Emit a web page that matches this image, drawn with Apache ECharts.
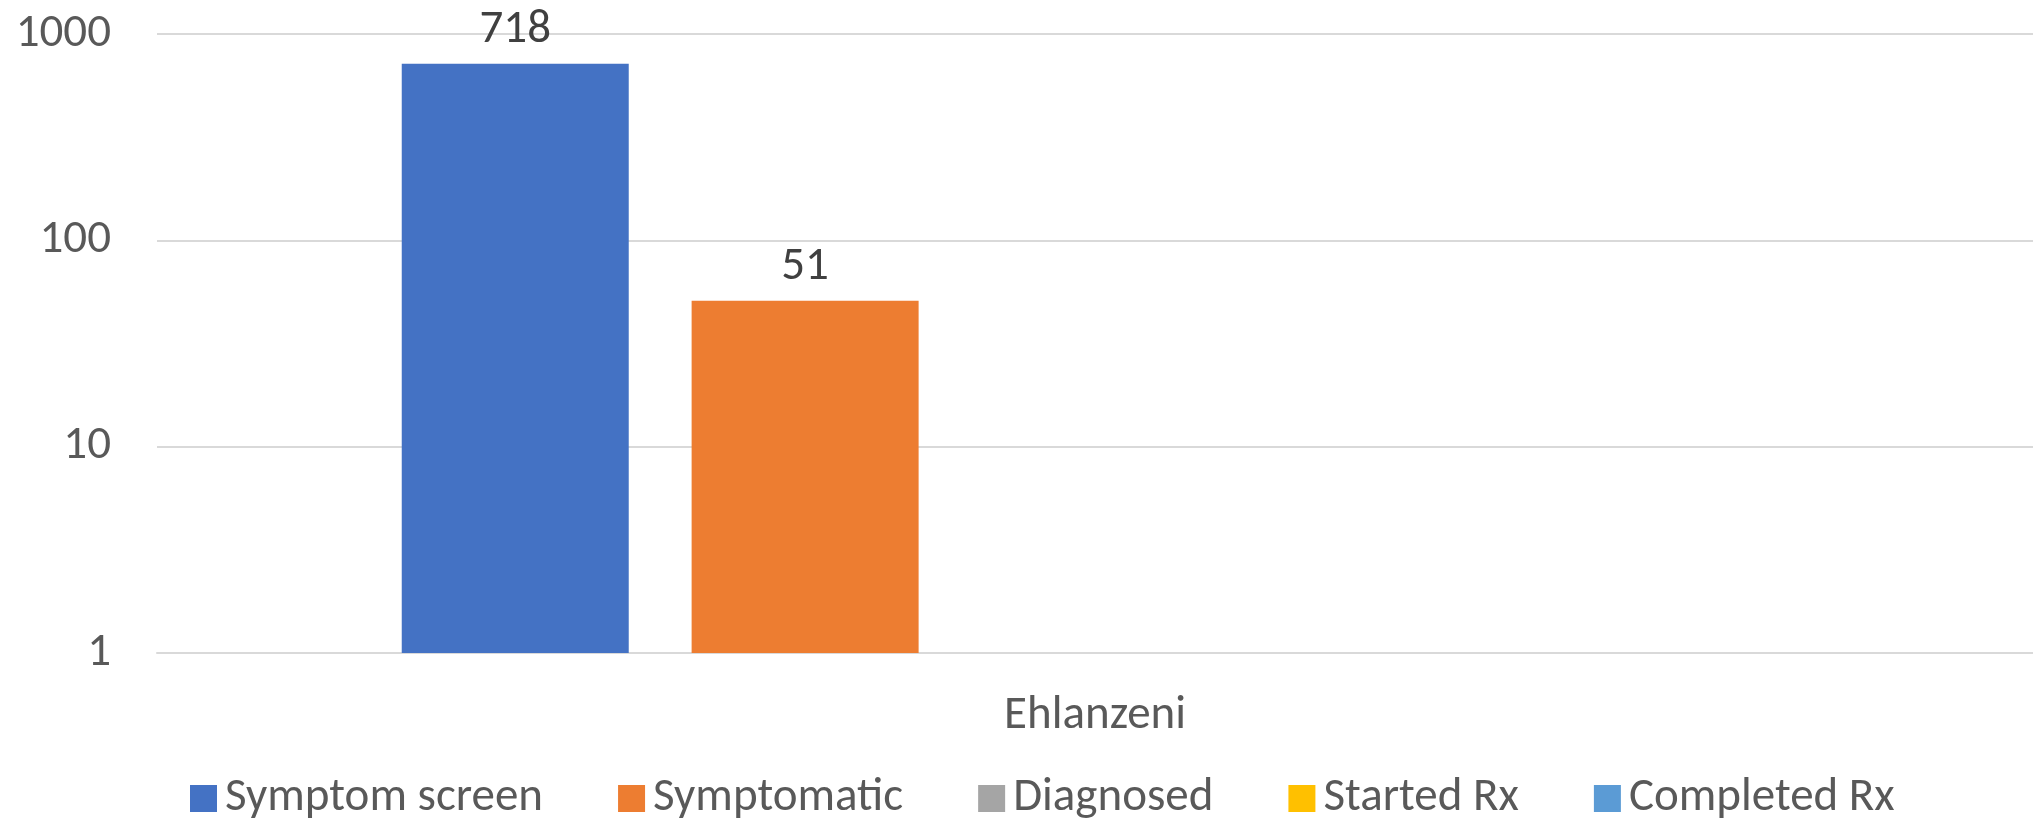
<!DOCTYPE html>
<html>
<head>
<meta charset="utf-8">
<script src="https://cdn.jsdelivr.net/npm/echarts@6/dist/echarts.min.js"></script>
<style>
html,body{margin:0;padding:0;background:#fff;}
#main{width:2033px;height:820px;}
</style>
</head>
<body>
<div id="main"></div>
<script>
const categories = ["Ehlanzeni"];
const seriesNames = ["Symptom screen", "Symptomatic", "Diagnosed", "Started Rx", "Completed Rx"];
const symptomScreen = [718];
const symptomatic = [51];
const diagnosed = [null];
const startedRx = [null];
const completedRx = [null];
const colors = ["#4472C4", "#ED7D31", "#A5A5A5", "#FFC000", "#5B9BD5"];
const yTicks = [1, 10, 100, 1000];

const FONT = "Calibri, Carlito, Lato, sans-serif";
const values = [symptomScreen, symptomatic, diagnosed, startedRx, completedRx];

const chart = echarts.init(document.getElementById('main'));
chart.setOption({
  animation: false,
  textStyle: { fontFamily: FONT },
  grid: { left: 157, right: -18, top: 34, bottom: 167, containLabel: false },
  legend: {
    left: 185, top: 770,
    itemWidth: 27, itemHeight: 27, itemGap: 75,
    icon: 'rect',
    textStyle: { fontSize: 47, color: '#595959', fontFamily: FONT, padding: [0, 0, 0, 3] },
    data: seriesNames
  },
  xAxis: {
    type: 'category',
    data: categories,
    axisLine: { lineStyle: { color: '#D9D9D9', width: 2 } },
    axisTick: { show: false },
    axisLabel: { fontSize: 47, color: '#595959', margin: 40, fontFamily: FONT }
  },
  yAxis: {
    type: 'log',
    logBase: 10,
    min: yTicks[0],
    max: yTicks[yTicks.length - 1],
    axisLine: { show: false },
    axisTick: { show: false },
    splitLine: { lineStyle: { color: '#D9D9D9', width: 2 } },
    axisLabel: {
      fontSize: 47, color: '#595959', margin: 46, fontFamily: FONT,
      formatter: v => String(Math.round(v))
    }
  },
  series: seriesNames.map((name, i) => ({
    name: name,
    type: 'bar',
    data: values[i],
    barWidth: 227,
    barGap: '27.7%',
    itemStyle: { color: colors[i] },
    label: {
      show: true, position: 'top', distance: 10,
      fontSize: 47, color: '#404040', fontFamily: FONT
    }
  }))
});
</script>
</body>
</html>
